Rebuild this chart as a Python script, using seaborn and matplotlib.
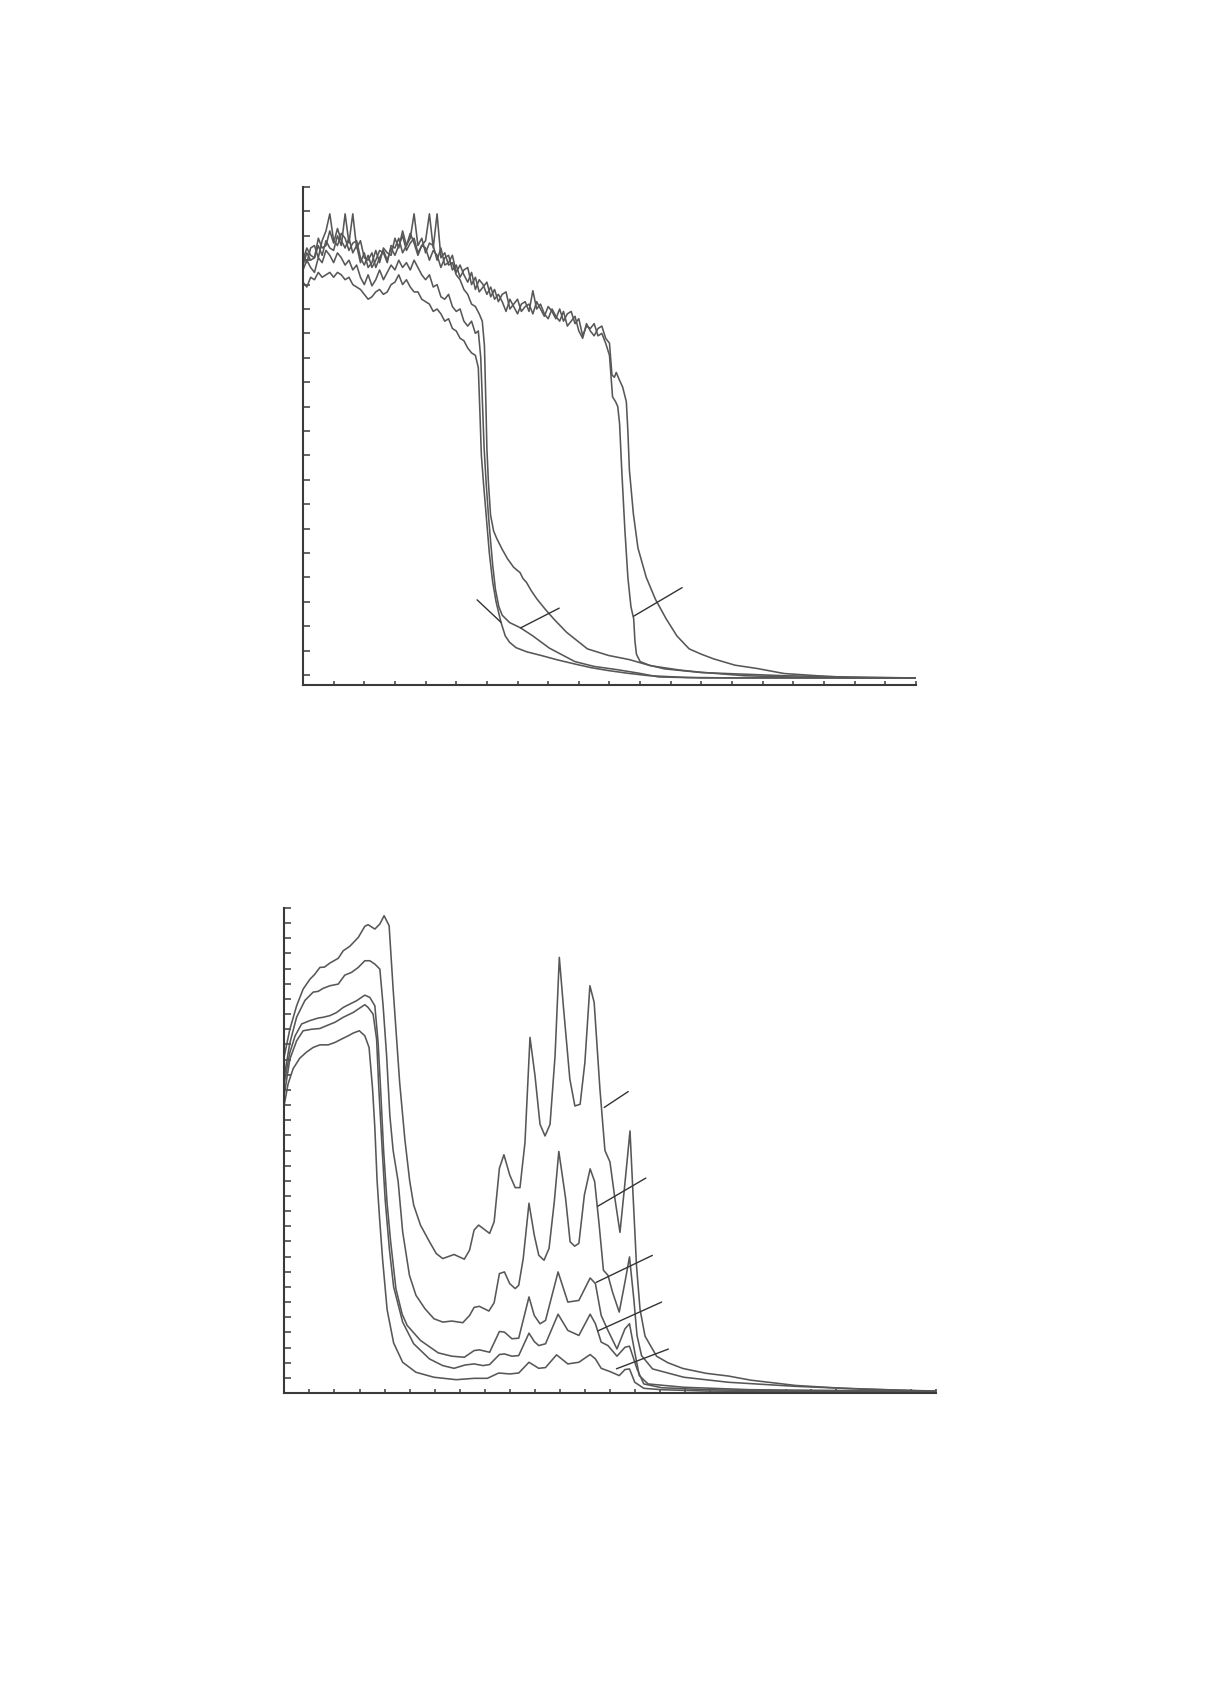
import matplotlib
matplotlib.use("Agg")
import matplotlib.pyplot as plt
import seaborn as sns
import numpy as np

# ---------------- TOP PANEL DATA (axis units: x 0..20, y 0..20) ----------------
top_grid = [0, 0.125, 0.25, 0.375, 0.5, 0.625, 0.75, 0.875, 1.0, 1.125, 1.25, 1.375,
            1.5, 1.625, 1.75, 1.875, 2.0, 2.125, 2.25, 2.375, 2.5, 2.625, 2.75, 2.875,
            3.0, 3.125, 3.25, 3.375, 3.5, 3.625, 3.75, 3.875, 4.0, 4.125, 4.25, 4.375,
            4.5, 4.625, 4.75, 4.875, 5.0, 5.125, 5.25, 5.375, 5.5, 5.625, 5.75, 5.875,
            6.0, 6.125, 6.25, 6.375, 6.5, 6.625, 6.75, 6.875, 7.0, 7.125, 7.25, 7.375,
            7.5, 7.625, 7.75, 7.875, 8.0, 8.125, 8.25, 8.375, 8.5, 8.625, 8.75, 8.875,
            9.0, 9.125, 9.25, 9.375, 9.5, 9.625, 9.75, 9.875, 10.0]

topA_plateau = [16.8, 17.3, 17.0, 17.1, 17.6, 17.2, 17.8, 17.5, 17.4, 18.0, 17.6, 18.9,
                17.7, 18.9, 17.5, 17.8, 17.1, 17.0, 17.3, 16.7, 17.1, 17.4, 17.0, 17.5,
                17.2, 17.6, 18.0, 17.4, 17.7, 17.9, 17.3, 17.6, 17.8, 18.9, 17.5, 18.9,
                17.1, 17.3, 16.8, 16.9, 16.4, 16.2, 15.8, 15.6, 15.2, 15.1, 14.8]
topA_tail_x = [5.85, 5.92, 5.97, 6.0, 6.05, 6.12, 6.22, 6.32, 6.5, 6.67, 6.87, 6.98, 7.08,
               7.18, 7.29, 7.45, 7.63, 7.9, 8.18, 8.6, 9.28, 9.97, 10.65, 11.34, 12.3,
               13.0, 14.4, 16.4, 20.0]
topA_tail_y = [14.5, 13.5, 11.0, 9.3, 7.9, 6.55, 5.9, 5.6, 5.15, 4.77, 4.42, 4.3, 4.2,
               3.95, 3.8, 3.45, 3.12, 2.7, 2.3, 1.75, 1.07, 0.8, 0.63, 0.38, 0.2,
               0.11, -0.03, -0.1, -0.12]

topB_plateau = [16.6, 17.0, 16.7, 16.5, 17.1, 16.9, 17.4, 17.2, 16.9, 17.3, 17.1, 16.8,
                17.0, 16.6, 16.8, 16.3, 16.0, 16.4, 15.95, 16.2, 16.6, 16.2, 16.5, 16.8,
                16.6, 17.0, 16.7, 16.9, 16.6, 17.0, 16.7, 16.4, 16.2, 16.4, 15.9, 16.0,
                15.5, 15.4, 15.6, 15.1, 14.9, 15.0, 14.5, 14.3, 14.5, 14.0]
topB_tail_x = [5.72, 5.8, 5.86, 5.91, 5.98, 6.05, 6.12, 6.19, 6.28, 6.39, 6.5, 6.74, 7.1,
               7.5, 8.04, 8.87, 9.5, 10.24, 10.93, 11.6, 13.0, 20.0]
topB_tail_y = [14.1, 13.0, 11.0, 9.3, 7.8, 6.55, 5.5, 4.5, 3.5, 2.8, 2.45, 2.15, 1.93,
               1.6, 1.1, 0.55, 0.35, 0.22, 0.08, -0.08, -0.12, -0.12]

topC_plateau = [16.1, 15.9, 16.3, 16.2, 16.5, 16.3, 16.4, 16.5, 16.3, 16.5, 16.4, 16.2,
                16.3, 16.0, 15.9, 15.8, 15.6, 15.4, 15.5, 15.7, 15.8, 15.6, 15.7, 16.0,
                16.1, 16.4, 16.0, 16.2, 15.9, 15.7, 15.7, 15.4, 15.3, 15.2, 14.9, 15.0,
                14.8, 14.5, 14.6, 14.2, 14.1, 13.8, 13.7, 13.4, 13.2, 13.1]
topC_tail_x = [5.72, 5.78, 5.82, 5.9, 5.98, 6.08, 6.19, 6.3, 6.46, 6.6, 6.74, 6.95, 7.3,
               7.77, 8.3, 8.87, 9.4, 9.97, 10.6, 11.3, 12.5, 14.0, 20.0]
topC_tail_y = [12.6, 10.5, 9.0, 7.7, 6.5, 5.0, 3.8, 3.0, 2.16, 1.6, 1.34, 1.12, 0.95,
               0.8, 0.62, 0.45, 0.3, 0.18, 0.07, -0.03, -0.1, -0.12, -0.12]

topD_plateau = [17.3, 16.9, 17.5, 17.6, 17.1, 17.8, 18.2, 18.9, 17.8, 17.6, 18.1, 17.9,
                17.4, 17.7, 17.8, 17.1, 16.8, 17.2, 16.7, 17.0, 17.4, 17.3, 16.9, 17.6,
                17.5, 17.9, 17.3, 17.6, 18.1, 17.7, 17.2, 17.6, 17.5, 17.0, 17.4, 17.2,
                16.7, 17.1, 17.2, 16.6, 16.8, 16.3, 16.6, 16.7, 16.0, 16.3, 15.7, 15.9,
                16.1, 15.5, 15.8, 15.3, 15.6, 15.7, 15.0, 15.2, 15.4, 14.9, 15.1, 15.2,
                14.8, 15.3, 15.0, 14.7, 15.1, 14.9, 14.6, 15.0, 14.5, 14.8, 14.9, 14.4,
                14.6, 13.9, 14.3, 14.2, 14.4, 13.9, 14.0, 13.6, 13.1]
topD_tail_x = [10.1, 10.2, 10.27, 10.33, 10.4, 10.5, 10.6, 10.7, 10.79, 10.83, 10.88, 11.0,
               11.3, 11.8, 13.0, 15.7, 18.5, 20.0]
topD_tail_y = [11.4, 11.2, 11.0, 10.3, 8.4, 6.0, 4.0, 2.8, 2.3, 1.4, 0.85, 0.55,
               0.4, 0.25, 0.1, -0.03, -0.1, -0.12]

topE_plateau = [17.0, 17.5, 17.2, 17.1, 17.9, 17.5, 17.6, 18.2, 17.7, 18.3, 17.8, 17.5,
                17.9, 17.3, 17.6, 16.9, 17.3, 16.7, 16.9, 17.4, 16.9, 17.5, 17.3, 17.2,
                17.9, 17.5, 18.2, 17.6, 17.9, 18.9, 17.6, 17.9, 17.3, 17.7, 17.6, 17.0,
                17.5, 16.8, 16.9, 17.2, 16.5, 16.8, 16.4, 16.1, 16.5, 15.8, 16.2, 16.0,
                15.6, 15.9, 15.4, 15.6, 15.3, 14.9, 15.4, 15.1, 14.8, 15.2, 15.3, 14.9,
                15.75, 15.0, 15.2, 14.8, 14.6, 15.0, 14.7, 14.5, 14.9, 14.3, 14.5, 14.7,
                14.1, 13.8, 14.4, 14.1, 13.9, 14.2, 14.3, 13.8, 13.6]
topE_tail_x = [10.08, 10.16, 10.22, 10.32, 10.43, 10.55, 10.6, 10.65, 10.78, 10.93, 11.2,
               11.5, 11.85, 12.2, 12.6, 13.0, 13.4, 14.1, 14.8, 15.7, 17.0, 17.8, 20.0]
topE_tail_y = [12.3, 12.2, 12.4, 12.1, 11.8, 11.2, 10.0, 8.4, 6.6, 5.2, 4.0,
               3.1, 2.3, 1.6, 1.07, 0.85, 0.66, 0.4, 0.27, 0.06, -0.05, -0.1, -0.12]

top_leaders = [((5.68, 3.08), (6.46, 2.16)),
               ((7.1, 1.93), (8.36, 2.74)),
               ((10.79, 2.41), (12.37, 3.58))]

# ---------------- BOTTOM PANEL DATA (axis units: x 0..26, y 0..32) ----------------
bot1_x = [0, 0.22, 0.49, 0.75, 1.02, 1.2, 1.42, 1.6, 1.82, 2.15, 2.35, 2.61, 2.95, 3.21,
          3.34, 3.61, 3.81, 3.98, 4.18, 4.34, 4.6, 4.81, 5.0, 5.16, 5.43, 5.79, 6.06, 6.32,
          6.77, 7.18, 7.39, 7.57, 7.75, 8.19, 8.37, 8.58, 8.76, 8.99, 9.21, 9.4, 9.6, 9.8,
          10.0, 10.2, 10.4, 10.6, 10.8, 10.97, 11.13, 11.39, 11.59, 11.8, 11.99, 12.19,
          12.36, 12.59, 12.79, 12.99, 13.19, 13.39, 13.59, 13.79, 13.92, 14.05, 14.19,
          14.39, 14.85, 15.3, 15.9, 16.83, 17.72, 18.6, 20.4, 22.2, 23.95, 26.0]
bot1_y = [22.25, 24.0, 25.55, 26.65, 27.3, 27.6, 28.08, 28.1, 28.37, 28.68, 29.18, 29.47,
          30.06, 30.79, 30.9, 30.61, 30.94, 31.49, 30.83, 26.65, 20.49, 16.7, 14.0, 12.4,
          11.08, 9.98, 9.2, 8.87, 9.14, 8.83, 9.43, 10.75, 11.08, 10.53, 11.3, 14.83,
          15.72, 14.39, 13.55, 13.55, 16.53, 23.46, 20.93, 17.73, 16.96, 17.73, 22.25,
          28.74, 25.55, 20.71, 18.94, 19.05, 21.81, 26.87, 25.77, 20.05, 16.0, 15.25,
          12.8, 10.6, 13.88, 17.29, 12.78, 8.38, 5.52, 3.75, 2.43, 2.0, 1.62, 1.3, 1.12,
          0.85, 0.5, 0.32, 0.22, 0.1]

bot2_x = [0, 0.22, 0.49, 0.82, 1.15, 1.35, 1.55, 1.82, 2.15, 2.41, 2.68, 2.95, 3.21, 3.41,
          3.61, 3.81, 3.94, 4.08, 4.21, 4.34, 4.54, 4.72, 4.99, 5.25, 5.61, 5.97, 6.32, 6.68,
          7.12, 7.39, 7.57, 7.78, 8.16, 8.37, 8.58, 8.78, 8.99, 9.21, 9.35, 9.53, 9.76, 9.97,
          10.15, 10.36, 10.56, 10.77, 10.95, 11.22, 11.4, 11.58, 11.75, 11.97, 12.2, 12.38,
          12.56, 12.73, 12.91, 13.09, 13.36, 13.59, 13.77, 13.94, 14.07, 14.25, 14.69,
          15.94, 17.72, 20.4, 23.06, 26.0]
bot2_y = [20.93, 23.1, 24.8, 25.9, 26.45, 26.5, 26.7, 26.87, 26.98, 27.57, 27.75, 28.08,
          28.52, 28.52, 28.3, 27.97, 25.55, 22.25, 18.28, 16.0, 13.95, 10.64, 7.77, 6.45,
          5.56, 4.9, 4.68, 4.75, 4.64, 5.12, 5.65, 5.72, 5.41, 5.96, 7.88, 7.99, 7.22, 6.89,
          7.11, 8.87, 12.52, 10.42, 9.09, 8.76, 9.54, 12.63, 15.94, 12.85, 9.98, 9.69, 9.87,
          13.07, 14.79, 13.95, 11.08, 8.1, 7.77, 6.67, 5.34, 7.33, 8.98, 6.23, 3.8, 2.47,
          1.59, 1.04, 0.71, 0.44, 0.26, 0.13]

bot3_x = [0, 0.22, 0.43, 0.69, 1.02, 1.35, 1.55, 1.82, 2.08, 2.35, 2.61, 2.88, 3.21, 3.41,
          3.61, 3.74, 3.84, 3.96, 4.1, 4.24, 4.45, 4.7, 4.9, 5.43, 6.14, 6.68, 7.18, 7.57,
          7.78, 8.19, 8.58, 8.78, 9.08, 9.35, 9.76, 9.97, 10.2, 10.42, 10.92, 11.31, 11.75,
          12.2, 12.41, 12.64, 12.91, 13.27, 13.59, 13.77, 13.98, 14.16, 14.51, 15.94, 18.6,
          26.0]
bot3_y = [20.5, 22.47, 23.57, 24.35, 24.57, 24.74, 24.79, 24.9, 25.1, 25.44, 25.66, 25.88,
          26.25, 26.1, 25.55, 23.13, 20.05, 16.0, 12.5, 10.0, 6.89, 5.2, 4.46, 3.47, 2.65,
          2.43, 2.36, 2.8, 2.85, 2.69, 4.06, 4.02, 3.58, 3.62, 6.34, 5.12, 4.57, 4.79, 7.99,
          6.0, 6.11, 7.59, 7.22, 5.12, 4.13, 2.91, 4.24, 4.57, 2.69, 1.15, 0.6, 0.38, 0.22,
          0.11]

bot4_x = [0, 0.22, 0.49, 0.75, 1.09, 1.42, 1.69, 2.02, 2.35, 2.75, 3.01, 3.21, 3.34, 3.54,
          3.68, 3.77, 3.9, 4.02, 4.19, 4.36, 4.72, 5.16, 5.79, 6.32, 6.77, 7.21, 7.57, 7.93,
          8.19, 8.58, 8.78, 9.08, 9.35, 9.76, 9.97, 10.15, 10.42, 10.92, 11.31, 11.75, 12.2,
          12.41, 12.64, 12.91, 13.27, 13.59, 13.77, 14.07, 14.34, 15.05, 16.83, 20.4, 26.0]
bot4_y = [19.72, 22.03, 23.24, 23.9, 24.0, 24.05, 24.24, 24.46, 24.79, 25.11, 25.4, 25.62,
          25.44, 25.0, 23.35, 20.05, 16.16, 12.8, 9.5, 7.0, 4.68, 3.25, 2.25, 1.81, 1.63,
          1.85, 1.92, 1.81, 1.88, 2.54, 2.58, 2.43, 2.47, 3.95, 3.4, 3.13, 3.25, 5.2, 4.13,
          3.8, 5.2, 4.57, 3.36, 3.13, 2.43, 3.02, 3.09, 1.59, 0.6, 0.35, 0.22, 0.13, 0.09]

bot5_x = [0, 0.15, 0.35, 0.62, 0.89, 1.15, 1.42, 1.75, 2.02, 2.28, 2.55, 2.75, 2.99, 3.21,
          3.38, 3.52, 3.61, 3.7, 3.8, 3.92, 4.1, 4.36, 4.72, 5.25, 5.97, 6.86, 7.57, 8.1,
          8.55, 8.99, 9.35, 9.76, 10.15, 10.42, 10.86, 11.31, 11.75, 12.2, 12.41, 12.64,
          13.0, 13.36, 13.59, 13.77, 13.98, 14.34, 15.05, 16.83, 20.4, 26.0]
bot5_y = [19.06, 20.4, 21.4, 22.1, 22.5, 22.8, 22.97, 22.97, 23.13, 23.35, 23.57, 23.75,
          23.9, 23.57, 22.8, 20.05, 17.5, 14.0, 11.5, 8.8, 5.5, 3.3, 2.03, 1.37, 1.04, 0.88,
          0.97, 0.97, 1.32, 1.26, 1.32, 2.03, 1.63, 1.68, 2.52, 1.92, 2.03, 2.54, 2.25, 1.63,
          1.41, 1.15, 1.55, 1.59, 0.71, 0.31, 0.22, 0.13, 0.09, 0.07]

bot_leaders = [((12.76, 18.84), (13.72, 19.89)),
               ((12.5, 12.32), (14.42, 14.18)),
               ((12.44, 7.3), (14.68, 9.08)),
               ((12.51, 4.1), (15.05, 6.0)),
               ((13.25, 1.6), (15.32, 2.9))]

# ---------------- STYLE ----------------
sns.set_style("white")
plt.rcParams["font.family"] = ["DejaVu Sans"]
CURVE = "#575757"
AXC = "#3a3a3a"
LW = 1.15

fig = plt.figure(figsize=(12.10, 16.83), dpi=100)
ax1 = fig.add_axes([0.2504, 0.5924, 0.5066, 0.2959])
ax2 = fig.add_axes([0.2350, 0.1717, 0.5386, 0.2882])


def draw(ax, xs, ys):
    sns.lineplot(x=list(xs), y=list(ys), ax=ax, color=CURVE, linewidth=LW,
                 estimator=None, sort=False)


# top panel curves
for plat, tx, ty in [(topA_plateau, topA_tail_x, topA_tail_y),
                     (topB_plateau, topB_tail_x, topB_tail_y),
                     (topC_plateau, topC_tail_x, topC_tail_y),
                     (topD_plateau, topD_tail_x, topD_tail_y),
                     (topE_plateau, topE_tail_x, topE_tail_y)]:
    xs = top_grid[:len(plat)] + tx
    ys = plat + ty
    draw(ax1, xs, ys)

for (x0, y0), (x1, y1) in top_leaders:
    ax1.plot([x0, x1], [y0, y1], color="#333333", linewidth=1.0)

# bottom panel curves
for xs, ys in [(bot1_x, bot1_y), (bot2_x, bot2_y), (bot3_x, bot3_y),
               (bot4_x, bot4_y), (bot5_x, bot5_y)]:
    draw(ax2, xs, ys)

for (x0, y0), (x1, y1) in bot_leaders:
    ax2.plot([x0, x1], [y0, y1], color="#333333", linewidth=1.0)

# axes styling
ax1.set_xlim(0, 20)
ax1.set_ylim(-0.41, 20)
ax1.set_xticks(np.arange(0, 21, 1))
ax1.set_yticks(np.arange(0, 21, 1))

ax2.set_xlim(0, 26)
ax2.set_ylim(0, 32)
ax2.set_xticks(np.arange(0, 27, 1))
ax2.set_yticks(np.arange(0, 33, 1))

for ax in (ax1, ax2):
    ax.set_xlabel("")
    ax.set_ylabel("")
    for s in ("top", "right"):
        ax.spines[s].set_visible(False)
    for s in ("left", "bottom"):
        ax.spines[s].set_linewidth(1.5)
        ax.spines[s].set_color(AXC)
    ax.tick_params(axis="x", direction="in", length=3.2, width=1.1, color=AXC,
                   labelbottom=False, bottom=True)
    ax.tick_params(axis="y", direction="in", length=5.0, width=1.1, color=AXC,
                   labelleft=False, left=True)
    ax.patch.set_alpha(0)

fig.savefig("out.png", dpi=100, facecolor="white")
